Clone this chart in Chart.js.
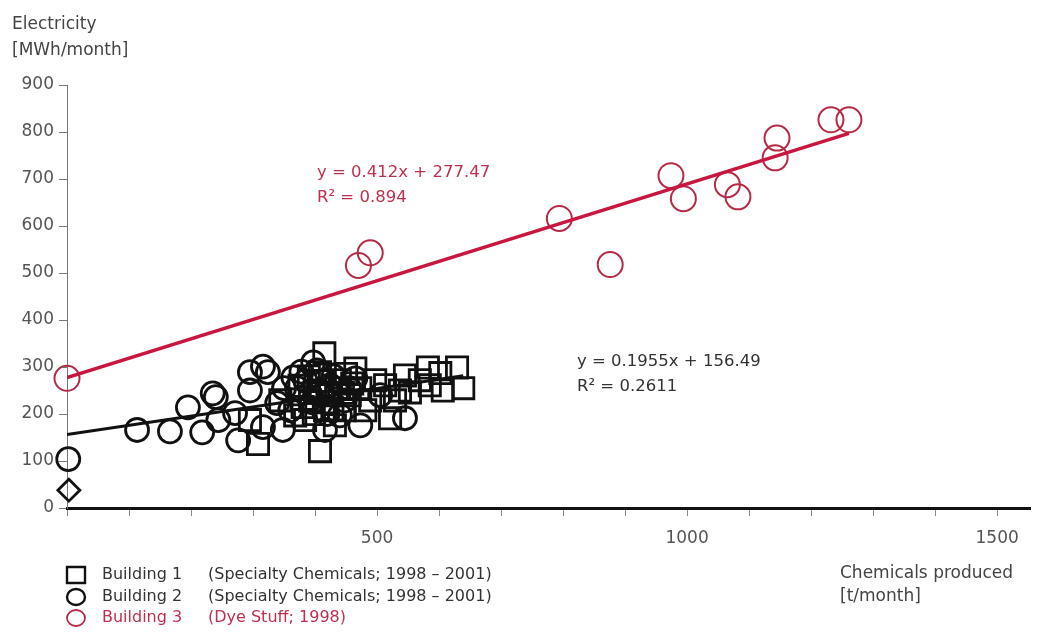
<!DOCTYPE html>
<html>
<head>
<meta charset="utf-8">
<title>Electricity vs. chemicals produced</title>
<script src="https://cdn.jsdelivr.net/npm/chart.js@4.4.0/dist/chart.umd.min.js"></script>
<style>
  html, body { margin: 0; padding: 0; background: #ffffff; }
  canvas { display: block; }
</style>
</head>
<body>
<canvas id="c" width="1040" height="634"></canvas>
<script>
// Monthly points: [chemicals produced t/month, electricity MWh/month]
const building1 = [
  [308,136],[408,121],[415,329],[408,289],[392,229],[424,240],[440,272],[448,208],
  [384,187],[432,176],[456,240],[473,255],[497,272],[513,261],[521,191],[529,229],
  [545,282],[569,272],[582,299],[606,250],[629,299],[639,255],[537,250],[489,229],
  [400,250],[416,208],[344,229],[368,197],[481,208],[602,287],[553,246],[585,261],
  [295,187],[465,297],[375,260],[390,280],[405,245],[420,225],[435,255],[450,285],
  [398,200],[412,270],[428,210],[445,245],[380,215],[460,265]
];
const building2 = [
  [2,104],[113,166],[166,163],[195,214],[218,161],[235,244],[240,236],[244,187],
  [271,202],[276,144],[295,289],[316,301],[324,289],[295,250],[316,172],[339,223],
  [348,166],[365,278],[371,255],[397,310],[403,293],[424,261],[448,229],[465,276],
  [473,176],[440,197],[505,240],[545,191],[416,166],[360,208],[385,270],[410,240],
  [430,280],[455,255],[395,225],[420,200],[350,255],[378,290]
];
const building2Diamond = [[3,38]];
const building3 = [
  [0,276],[470,516],[489,543],[794,616],[876,518],[974,707],[994,658],
  [1065,688],[1082,662],[1142,745],[1145,787],[1232,826],[1261,826]
];

// Linear fits: [slope, intercept, R²]
const fitB12 = [0.1955, 156.49, 0.2611];
const fitB3 = [0.412, 277.47, 0.894];

// Axis ranges and ticks
const xMax = 1553;
const yMax = 900;
const xTickValues = [0,100,200,300,400,500,600,700,800,900,1000,1100,1200,1300,1400,1500];
const xLabelledTicks = [500, 1000, 1500];

const legendRows = [
  ['Building 1', '(Specialty Chemicals; 1998 \u2013 2001)'],
  ['Building 2', '(Specialty Chemicals; 1998 \u2013 2001)'],
  ['Building 3', '(Dye Stuff; 1998)']
];

const RED_LINE = '#c8163f';
const RED_MARK = '#b52a45';
const RED_TEXT = '#c0304e';
const INK = '#111111';
const TEXT = '#444444';
const FONT = '"DejaVu Sans", "Liberation Sans", sans-serif';

const toPts = arr => arr.map(p => ({ x: p[0], y: p[1] }));
function fitLine(fit, xs) {
  const x1 = Math.max(...xs);
  return [{ x: 0, y: fit[1] }, { x: x1, y: fit[0] * x1 + fit[1] }];
}
const blackXs = building1.concat(building2).map(p => p[0]);
const redXs = building3.map(p => p[0]);

const fmtEq = f => 'y = ' + f[0] + 'x + ' + f[1];
const fmtR2 = f => 'R\u00b2 = ' + f[2];

const labels = {
  id: 'labels',
  afterDraw(chart) {
    const ctx = chart.ctx;
    ctx.save();
    ctx.textAlign = 'left';
    ctx.textBaseline = 'alphabetic';

    // axis titles
    ctx.fillStyle = TEXT;
    ctx.font = '17px ' + FONT;
    ctx.fillText('Electricity', 12, 29);
    ctx.fillText('[MWh/month]', 12, 55);
    ctx.fillText('Chemicals produced', 840, 578);
    ctx.fillText('[t/month]', 840, 601);

    // regression equations
    ctx.font = '16.5px ' + FONT;
    ctx.fillStyle = RED_TEXT;
    ctx.fillText(fmtEq(fitB3), 317, 177);
    ctx.fillText(fmtR2(fitB3), 317, 202);
    ctx.fillStyle = '#333333';
    ctx.fillText(fmtEq(fitB12), 577, 366);
    ctx.fillText(fmtR2(fitB12), 577, 391);

    // legend
    const rowY = [575, 597, 618];
    ctx.font = '16px ' + FONT;
    ctx.textBaseline = 'middle';
    legendRows.forEach((row, i) => {
      const y = rowY[i];
      const red = i === 2;
      ctx.strokeStyle = red ? RED_MARK : INK;
      ctx.lineWidth = red ? 1.8 : 2.4;
      ctx.beginPath();
      if (i === 0) {
        ctx.rect(67, y - 8, 18, 16);
      } else {
        ctx.ellipse(76, y, 9, 8, 0, 0, Math.PI * 2);
      }
      ctx.stroke();
      ctx.fillStyle = red ? RED_TEXT : '#333333';
      ctx.fillText(row[0], 102, y);
      ctx.fillText(row[1], 208, y);
    });
    ctx.restore();
  }
};

new Chart(document.getElementById('c'), {
  type: 'scatter',
  data: {
    datasets: [
      {
        label: 'Building 3 fit',
        data: fitLine(fitB3, redXs),
        showLine: true, borderColor: RED_LINE, borderWidth: 3.5,
        pointRadius: 0
      },
      {
        label: 'Building 1+2 fit',
        data: fitLine(fitB12, blackXs),
        showLine: true, borderColor: INK, borderWidth: 3,
        pointRadius: 0
      },
      {
        label: 'Building 3',
        data: toPts(building3),
        pointStyle: 'circle', pointRadius: 12.5, clip: false,
        borderColor: RED_MARK, borderWidth: 2, backgroundColor: 'rgba(0,0,0,0)'
      },
      {
        label: 'Building 2',
        data: toPts(building2),
        pointStyle: 'circle', pointRadius: 11.5, clip: false,
        borderColor: INK, borderWidth: 2.8, backgroundColor: 'rgba(0,0,0,0)'
      },
      {
        label: 'Building 2 (diamond)',
        data: toPts(building2Diamond),
        pointStyle: 'rectRot', pointRadius: 11, clip: false,
        borderColor: INK, borderWidth: 2.8, backgroundColor: 'rgba(0,0,0,0)'
      },
      {
        label: 'Building 1',
        data: toPts(building1),
        pointStyle: 'rect', pointRadius: 15, clip: false,
        borderColor: INK, borderWidth: 2.8, backgroundColor: 'rgba(0,0,0,0)'
      }
    ]
  },
  options: {
    responsive: false,
    devicePixelRatio: 1,
    animation: false,
    events: [],
    layout: { autoPadding: false, padding: { top: 85, right: 10, left: 0, bottom: 0 } },
    plugins: { legend: { display: false }, tooltip: { enabled: false } },
    scales: {
      x: {
        type: 'linear', min: 0, max: xMax,
        border: { display: true, color: INK, width: 3 },
        grid: { drawOnChartArea: false, drawTicks: true, tickLength: 8, color: '#888888', tickWidth: 1 },
        ticks: {
          autoSkip: false, maxRotation: 0, padding: 12,
          color: '#555555', font: { family: FONT, size: 17 },
          callback: v => (xLabelledTicks.includes(v) ? String(v) : '')
        },
        afterBuildTicks: s => { s.ticks = xTickValues.map(v => ({ value: v })); },
        afterFit: s => { s.height = 126; s.paddingLeft = 0; s.paddingRight = 0; }
      },
      y: {
        type: 'linear', min: 0, max: yMax,
        border: { display: true, color: '#777777', width: 1 },
        grid: { drawOnChartArea: false, drawTicks: true, tickLength: 8, color: '#777777' },
        ticks: {
          stepSize: 100, padding: 5,
          color: '#555555', font: { family: FONT, size: 17 }
        },
        afterFit: s => { s.width = 67; s.paddingTop = 0; s.paddingBottom = 0; }
      }
    }
  },
  plugins: [labels]
});
</script>
</body>
</html>
